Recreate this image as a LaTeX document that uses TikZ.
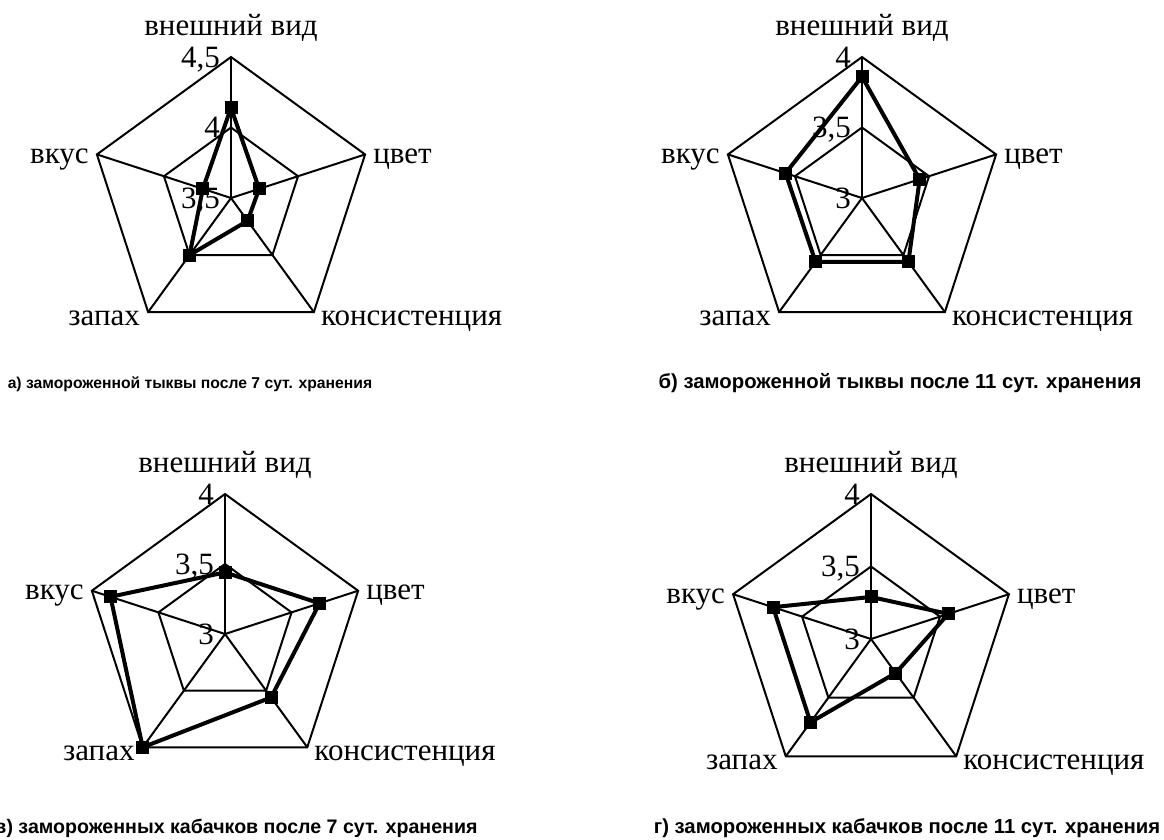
\documentclass[tikz,border=0pt]{standalone}
\usepackage{fontspec}
\setmainfont{Liberation Serif}
\newfontfamily\capfont{Liberation Sans}
\usetikzlibrary{calc}
\tikzset{
  gridline/.style={line width=2pt, line join=miter},
  dataline/.style={line width=4pt, line join=round},
  marker/.style={rectangle, fill=black, minimum size=13pt, inner sep=0pt},
  axlab/.style={font=\fontsize{31}{33}\selectfont, inner sep=0pt},
  valnum/.style={font=\fontsize{31}{33}\selectfont, inner sep=0pt, text depth=0pt, anchor=east},
  caption/.style={font=\capfont\bfseries\fontsize{20.3}{22}\selectfont, inner sep=0pt, anchor=base},
  smallcaption/.style={caption, font=\capfont\bfseries\fontsize{15.7}{18}\selectfont},
  midcaption/.style={caption, font=\capfont\bfseries\fontsize{19.6}{22}\selectfont}
}
\newcommand\radargrid[7]{%
  \begin{scope}[shift={(#2,#3)}]
    \coordinate (#1c) at (0,0);
    \pgfmathsetmacro\rh{#4/2}
    \foreach \a [count=\i] in {-90,-18,54,126,198}{
      \coordinate (#1o\i) at (\a:#4);
      \coordinate (#1m\i) at (\a:\rh);
    }
  \end{scope}
  \draw[gridline] (#1o1)--(#1o2)--(#1o3)--(#1o4)--(#1o5)--cycle;
  \draw[gridline] (#1m1)--(#1m2)--(#1m3)--(#1m4)--(#1m5)--cycle;
  \foreach \i in {1,...,5}{\draw[gridline] (#1c)--(#1o\i);}
  \node[axlab, anchor=base] (#1L1) at ($(#1o1)+(0,-22)$) {внешний вид};
  \node[axlab, anchor=base west] (#1L2) at ($(#1o2)+(8,9)$) {цвет};
  \node[axlab, anchor=base west] (#1L3) at ($(#1o3)+(7,13)$) {консистенция};
  \node[axlab, anchor=base east] (#1L4) at ($(#1o4)+(-8,13)$) {запах};
  \node[axlab, anchor=base east] (#1L5) at ($(#1o5)+(-8,9)$) {вкус};
  \node[valnum] (#1V1) at ($(#1o1)+(-11,0)$) {#5};
  \node[valnum] (#1V2) at ($(#1m1)+(-11,0)$) {#6};
  \node[valnum] (#1V3) at ($(#1c)+(-11,0)$) {#7};
}
\newcommand\radardata[6]{%
  \coordinate (#1d1) at ($(#1c)!#2!(#1o1)$);
  \coordinate (#1d2) at ($(#1c)!#3!(#1o2)$);
  \coordinate (#1d3) at ($(#1c)!#4!(#1o3)$);
  \coordinate (#1d4) at ($(#1c)!#5!(#1o4)$);
  \coordinate (#1d5) at ($(#1c)!#6!(#1o5)$);
  \draw[dataline] (#1d1)--(#1d2)--(#1d3)--(#1d4)--(#1d5)--cycle;
  \foreach \i in {1,...,5}{\node[marker] (#1k\i) at (#1d\i) {};}
}
\begin{document}
\begin{tikzpicture}[x=1pt, y=-1pt]
  \useasboundingbox (0,0) rectangle (1164,839);
  % a
  \radargrid{A}{231}{198}{141}{4,5}{4}{3,5}
  \radardata{A}{0.64}{0.21}{0.20}{0.50}{0.21}
  % b
  \radargrid{B}{862}{198}{141}{4}{3,5}{3}
  \radardata{B}{0.86}{0.43}{0.56}{0.56}{0.57}
  % c
  \radargrid{C}{225}{634}{140}{4}{3,5}{3}
  \radardata{C}{0.44}{0.71}{0.56}{1.0}{0.86}
  % d
  \radargrid{D}{871}{639}{145}{4}{3,5}{3}
  \radardata{D}{0.29}{0.56}{0.29}{0.71}{0.71}
  % captions
  \node[smallcaption] (capA) at (190,388) {а) замороженной тыквы после 7 сут. хранения};
  \node[caption] (capB) at (900,388) {б) замороженной тыквы после 11 сут. хранения};
  \node[midcaption] (capC) at (236,833) {в) замороженных кабачков после 7 сут. хранения};
  \node[caption] (capD) at (907,833) {г) замороженных кабачков после 11 сут. хранения};
\end{tikzpicture}
\end{document}
